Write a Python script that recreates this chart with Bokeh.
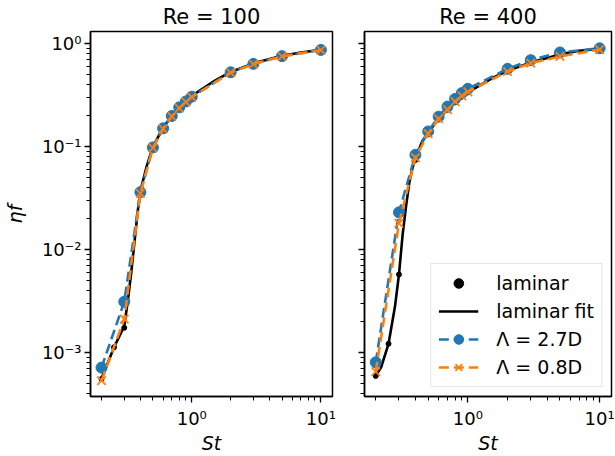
from bokeh.plotting import figure
from bokeh.layouts import row
from bokeh.models import (Range1d, FixedTicker, CustomJSTickFormatter, Legend,
                          LegendItem)
from bokeh.embed import file_html
from bokeh.resources import INLINE

# ---------------- data ----------------
st = [0.2, 0.3, 0.4, 0.5, 0.6, 0.7, 0.8, 0.9, 1.0, 2.0, 3.0, 5.0, 10.0]
st_lam = [0.2, 0.25, 0.3, 0.4, 0.5, 0.6, 0.7, 0.8, 0.9, 1.0, 2.0, 3.0, 5.0, 10.0]
st_fit = [0.2, 0.22, 0.25, 0.28, 0.3, 0.32, 0.34, 0.36, 0.38, 0.4, 0.45, 0.5,
          0.6, 0.7, 0.8, 1.0, 1.5, 2.0, 3.0, 5.0, 7.0, 10.0]

re100_lam = [5.5e-4, 1.12e-3, 1.73e-3, 0.036, 0.099, 0.152, 0.198, 0.240, 0.274,
             0.306, 0.53, 0.638, 0.757, 0.87]
re100_fit = [5.6e-4, 7.5e-4, 1.12e-3, 1.5e-3, 1.8e-3, 3.2e-3, 6.0e-3, 0.0118,
             0.0226, 0.037, 0.066, 0.099, 0.153, 0.199, 0.241, 0.31, 0.435, 0.53,
             0.642, 0.76, 0.82, 0.872]
re100_l27 = [7.1e-4, 3.1e-3, 0.036, 0.098, 0.150, 0.198, 0.240, 0.274, 0.305,
             0.526, 0.635, 0.755, 0.868]
re100_l08 = [5.3e-4, 2.1e-3, 0.035, 0.097, 0.148, 0.196, 0.236, 0.271, 0.302,
             0.522, 0.632, 0.75, 0.865]

re400_lam = [5.9e-4, 1.21e-3, 5.7e-3, 0.074, 0.137, 0.186, 0.228, 0.268, 0.305,
             0.335, 0.545, 0.655, 0.785, 0.89]
re400_fit = [5.9e-4, 7.2e-4, 1.21e-3, 2.8e-3, 5.7e-3, 0.014, 0.0266, 0.045, 0.062,
             0.076, 0.112, 0.137, 0.186, 0.228, 0.268, 0.335, 0.455, 0.545, 0.655,
             0.785, 0.85, 0.89]
re400_l27 = [8.0e-4, 0.0229, 0.083, 0.140, 0.195, 0.244, 0.29, 0.33, 0.363,
             0.568, 0.69, 0.82, 0.90]
re400_l08 = [6.5e-4, 0.0179, 0.078, 0.133, 0.186, 0.228, 0.273, 0.31, 0.34,
             0.536, 0.645, 0.75, 0.875]

titles = ["Re = 100", "Re = 400"]
labels = ["laminar", "laminar fit", "Λ = 2.7D", "Λ = 0.8D"]
x_label = "St"
y_label = "ηf"

BLUE = "#1f77b4"
ORANGE = "#ff7f0e"
FONT = "DejaVu Sans"

FW = 247
H = 456
TOP, BOTTOM = 31, 60

x_range = Range1d(0.1643, 12.3)
y_range = Range1d(3.72e-4, 1.31)

fmt_js = """
const e = Math.round(Math.log10(tick));
const sup = {"-":"\u207b","0":"\u2070","1":"\u00b9","2":"\u00b2","3":"\u00b3",
             "4":"\u2074","5":"\u2075","6":"\u2076","7":"\u2077","8":"\u2078","9":"\u2079"};
return "10" + String(e).split("").map(c => sup[c]).join("");
"""


def make_fig(title, lam, fit, l27, l08, left, mb_left, mb_right):
    p = figure(width=mb_left + FW + mb_right, height=H, x_axis_type="log",
               y_axis_type="log", x_range=x_range, y_range=y_range,
               output_backend="svg", toolbar_location=None,
               min_border_left=mb_left, min_border_right=mb_right,
               min_border_top=TOP, min_border_bottom=BOTTOM)
    p.title.text = title
    p.title.align = "center"
    p.title.text_font = FONT
    p.title.text_font_size = "21px"
    p.title.text_font_style = "normal"
    p.title.text_color = "black"
    p.title.standoff = 5
    p.xgrid.visible = False
    p.ygrid.visible = False
    p.outline_line_color = "black"
    p.outline_line_width = 1.5
    p.outline_line_alpha = 1.0

    for ax in (p.xaxis[0], p.yaxis[0]):
        ax.axis_line_color = "black"
        ax.axis_line_width = 1.5
        ax.major_tick_line_color = "black"
        ax.minor_tick_line_color = "black"
        ax.major_tick_line_width = 1.3
        ax.minor_tick_line_width = 1.0
        ax.major_tick_in = 0
        ax.major_tick_out = 6
        ax.minor_tick_in = 0
        ax.minor_tick_out = 4
        ax.major_label_text_font = FONT
        ax.major_label_text_font_size = "18px"
        ax.major_label_text_color = "black"
        ax.major_label_standoff = 3
        ax.formatter = CustomJSTickFormatter(code=fmt_js)

    p.xaxis.ticker = FixedTicker(
        ticks=[0.1, 1.0, 10.0],
        minor_ticks=[m * 10.0 ** e for e in range(-1, 2) for m in range(2, 10)])
    p.yaxis.ticker = FixedTicker(
        ticks=[1e-4, 1e-3, 1e-2, 1e-1, 1.0],
        minor_ticks=[m * 10.0 ** e for e in range(-4, 1) for m in range(2, 10)])
    p.xaxis.major_label_standoff = 5
    p.xaxis.axis_label = x_label
    p.xaxis.axis_label_text_font = FONT
    p.xaxis.axis_label_text_font_style = "italic"
    p.xaxis.axis_label_text_font_size = "19px"
    p.xaxis.axis_label_text_color = "black"
    p.xaxis.axis_label_standoff = 0

    if left:
        p.yaxis.axis_label = y_label
        p.yaxis.axis_label_text_font = FONT
        p.yaxis.axis_label_text_font_style = "italic"
        p.yaxis.axis_label_text_font_size = "19px"
        p.yaxis.axis_label_text_color = "black"
        p.yaxis.axis_label_standoff = 13
    else:
        p.yaxis.formatter = CustomJSTickFormatter(code="return '';")
        p.yaxis.major_label_standoff = 0

    r_lam = p.scatter(st_lam, lam, size=5, color="black")
    r_fit = p.line(st_fit, fit, line_color="black", line_width=2.6)
    r_b_line = p.line(st, l27, line_color=BLUE, line_width=2.6, line_dash="10 5")
    r_b_mark = p.scatter(st, l27, size=11, marker="circle", color=BLUE)
    r_o_line = p.line(st, l08, line_color=ORANGE, line_width=2.6, line_dash="10 5")
    r_o_mark = p.scatter(st, l08, size=12, marker="x", line_color=ORANGE,
                         line_width=1.8)

    if not left:
        legend = Legend(items=[
            LegendItem(label=labels[0], renderers=[r_lam]),
            LegendItem(label=labels[1], renderers=[r_fit]),
            LegendItem(label=labels[2], renderers=[r_b_line, r_b_mark]),
            LegendItem(label=labels[3], renderers=[r_o_line, r_o_mark]),
        ], location="bottom_right")
        legend.label_text_font = FONT
        legend.label_text_font_size = "19px"
        legend.label_text_color = "black"
        legend.glyph_width = 40
        legend.glyph_height = 24
        legend.label_height = 24
        legend.label_standoff = 18
        legend.spacing = 4
        legend.padding = 7
        legend.margin = 9
        legend.border_line_color = "#cccccc"
        legend.border_line_width = 1.2
        legend.background_fill_alpha = 0.8
        p.add_layout(legend, "center")
    return p


p1 = make_fig(titles[0], re100_lam, re100_fit, re100_l27, re100_l08, True, 85, 16)
p2 = make_fig(titles[1], re400_lam, re400_fit, re400_l27, re400_l08, False, 16, 4)

layout = row(p1, p2)
open("out.html", "w").write(file_html(layout, INLINE))
